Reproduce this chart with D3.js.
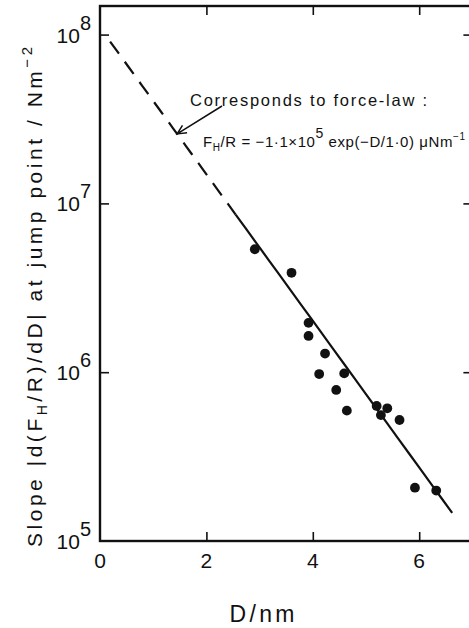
<!DOCTYPE html>
<html>
<head>
<meta charset="utf-8">
<script src="https://cdn.jsdelivr.net/npm/d3@7"></script>
<style>
  html, body { margin: 0; padding: 0; background: #fff; }
  svg { display: block; }
  text { font-family: "Liberation Sans", Arial, sans-serif; fill: #111; }
</style>
</head>
<body>
<svg id="chart" width="469" height="628"></svg>
<script>
// Separation at jump point (nm)
const separation = [2.91, 3.60, 3.92, 3.92, 4.23, 4.12, 4.59, 4.44, 4.64, 5.20, 5.40, 5.28, 5.63, 5.92, 6.32];
// Measured slope |d(F_H/R)/dD| at jump point (N m^-2)
const jumpSlope = [5.35e6, 3.88e6, 1.96e6, 1.64e6, 1.29e6, 9.75e5, 9.84e5, 7.85e5, 5.92e5, 6.31e5, 6.11e5, 5.57e5, 5.21e5, 2.07e5, 1.99e5];

// Force law F_H/R = -A exp(-D/lambda), A in uN/m, lambda in nm
const lawAmplitude = 1.1e5;   // uN m^-1
const lawDecay = 1.0;         // nm
// Slope of the law in N m^-2: A[uN/m] * 1e-6 / (lambda[nm] * 1e-9)
const lawSlope = d => lawAmplitude * 1e-6 / (lawDecay * 1e-9) * Math.exp(-d / lawDecay);
const lawDashed = [0.19, 2.55];
const lawSolid = [2.55, 6.62];

const xTicks = [0, 2, 4, 6];
const yTicks = [1e5, 1e6, 1e7, 1e8];
const yTickExp = ["5", "6", "7", "8"];

const svg = d3.select("#chart");
const plotLeft = 100, plotRight = 472.4, plotTop = 6, plotBottom = 541;

const x = d3.scaleLinear().domain([0, 7]).range([plotLeft, plotRight]);
const y = d3.scaleLog().domain([1e5, 1.477e8]).range([plotBottom, plotTop]);

// Frame
svg.append("rect")
  .attr("x", plotLeft).attr("y", plotTop)
  .attr("width", plotRight - plotLeft).attr("height", plotBottom - plotTop)
  .attr("fill", "none").attr("stroke", "#111").attr("stroke-width", 2.4);

// Inward ticks on all four sides
function styleAxis(g) {
  g.select(".domain").remove();
  g.selectAll(".tick line").attr("stroke", "#111").attr("stroke-width", 1.6);
}
svg.append("g").attr("transform", `translate(0,${plotBottom})`)
  .call(d3.axisBottom(x).tickValues(xTicks.slice(1)).tickSize(-9).tickFormat(""))
  .call(styleAxis);
svg.append("g").attr("transform", `translate(0,${plotTop})`)
  .call(d3.axisTop(x).tickValues(xTicks.slice(1)).tickSize(-9).tickFormat(""))
  .call(styleAxis);
svg.append("g").attr("transform", `translate(${plotLeft},0)`)
  .call(d3.axisLeft(y).tickValues(yTicks.slice(1)).tickSize(-9).tickFormat(""))
  .call(styleAxis);
svg.append("g").attr("transform", `translate(${plotRight},0)`)
  .call(d3.axisRight(y).tickValues(yTicks.slice(1)).tickSize(-9).tickFormat(""))
  .call(styleAxis);

// X tick labels
svg.append("g").selectAll("text").data(xTicks).join("text")
  .attr("x", d => x(d)).attr("y", plotBottom + 27)
  .attr("text-anchor", "middle").attr("font-size", 21)
  .text(d => d);

// Y tick labels as powers of ten
const yl = svg.append("g").selectAll("text").data(yTicks).join("text")
  .attr("x", plotLeft - 9).attr("y", d => y(d) + 8)
  .attr("text-anchor", "end").attr("font-size", 21);
yl.append("tspan").text("10");
yl.append("tspan").attr("dy", -13).attr("font-size", 20).text((d, i) => yTickExp[i]);

// Axis titles
svg.append("text")
  .attr("x", 262).attr("y", 622).attr("text-anchor", "middle")
  .attr("font-size", 23).attr("textLength", 65).attr("lengthAdjust", "spacing")
  .text("D/nm");

const yt = svg.append("text")
  .attr("transform", "translate(42,547) rotate(-90)")
  .attr("font-size", 21).attr("textLength", 500).attr("lengthAdjust", "spacing");
yt.append("tspan").text("Slope |d(F");
yt.append("tspan").attr("dy", 5).attr("font-size", 14).text("H");
yt.append("tspan").attr("dy", -5).text("/R)/dD|  at  jump  point / Nm");
yt.append("tspan").attr("dy", -10).attr("font-size", 15).text("−2");

// Force-law line: dashed extrapolation, solid over the data range
const lawLine = d3.line().x(d => x(d)).y(d => y(lawSlope(d)));
svg.append("path")
  .attr("d", lawLine(d3.range(lawDashed[0], lawDashed[1] + 1e-9, (lawDashed[1] - lawDashed[0]) / 20)))
  .attr("fill", "none").attr("stroke", "#111").attr("stroke-width", 2.2)
  .attr("stroke-dasharray", "15,10");
svg.append("path")
  .attr("d", lawLine(d3.range(lawSolid[0], lawSolid[1] + 1e-9, (lawSolid[1] - lawSolid[0]) / 20)))
  .attr("fill", "none").attr("stroke", "#111").attr("stroke-width", 2.2);

// Data points
svg.append("g").selectAll("circle").data(separation).join("circle")
  .attr("cx", d => x(d)).attr("cy", (d, i) => y(jumpSlope[i]))
  .attr("r", 4.9).attr("fill", "#111");

// Annotation with arrow pointing at the dashed law
const arrowD = 1.45;
const tip = [x(arrowD), y(lawSlope(arrowD))];
const tail = [222, 106];
const ang = Math.atan2(tail[1] - tip[1], tail[0] - tip[0]);
const headLen = 10, spread = 0.45;
svg.append("path")
  .attr("d", `M${tail[0]},${tail[1]}L${tip[0]},${tip[1]}` +
    `M${tip[0] + headLen * Math.cos(ang - spread)},${tip[1] + headLen * Math.sin(ang - spread)}` +
    `L${tip[0]},${tip[1]}` +
    `L${tip[0] + headLen * Math.cos(ang + spread)},${tip[1] + headLen * Math.sin(ang + spread)}`)
  .attr("fill", "none").attr("stroke", "#111").attr("stroke-width", 1.5);

svg.append("text")
  .attr("x", 190).attr("y", 106).attr("font-size", 16.5)
  .attr("textLength", 237).attr("lengthAdjust", "spacing")
  .text("Corresponds  to  force-law :");

const law = svg.append("text")
  .attr("x", 203).attr("y", 147).attr("font-size", 15)
  .attr("textLength", 262).attr("lengthAdjust", "spacing");
law.append("tspan").text("F");
law.append("tspan").attr("dy", 4).attr("font-size", 10).text("H");
law.append("tspan").attr("dy", -4).text("/R = −1·1×10");
law.append("tspan").attr("dy", -9).attr("font-size", 14).text("5");
law.append("tspan").attr("dy", 9).text(" exp(−D/1·0)  μNm");
law.append("tspan").attr("dy", -7).attr("font-size", 10).text("−1");
</script>
</body>
</html>
